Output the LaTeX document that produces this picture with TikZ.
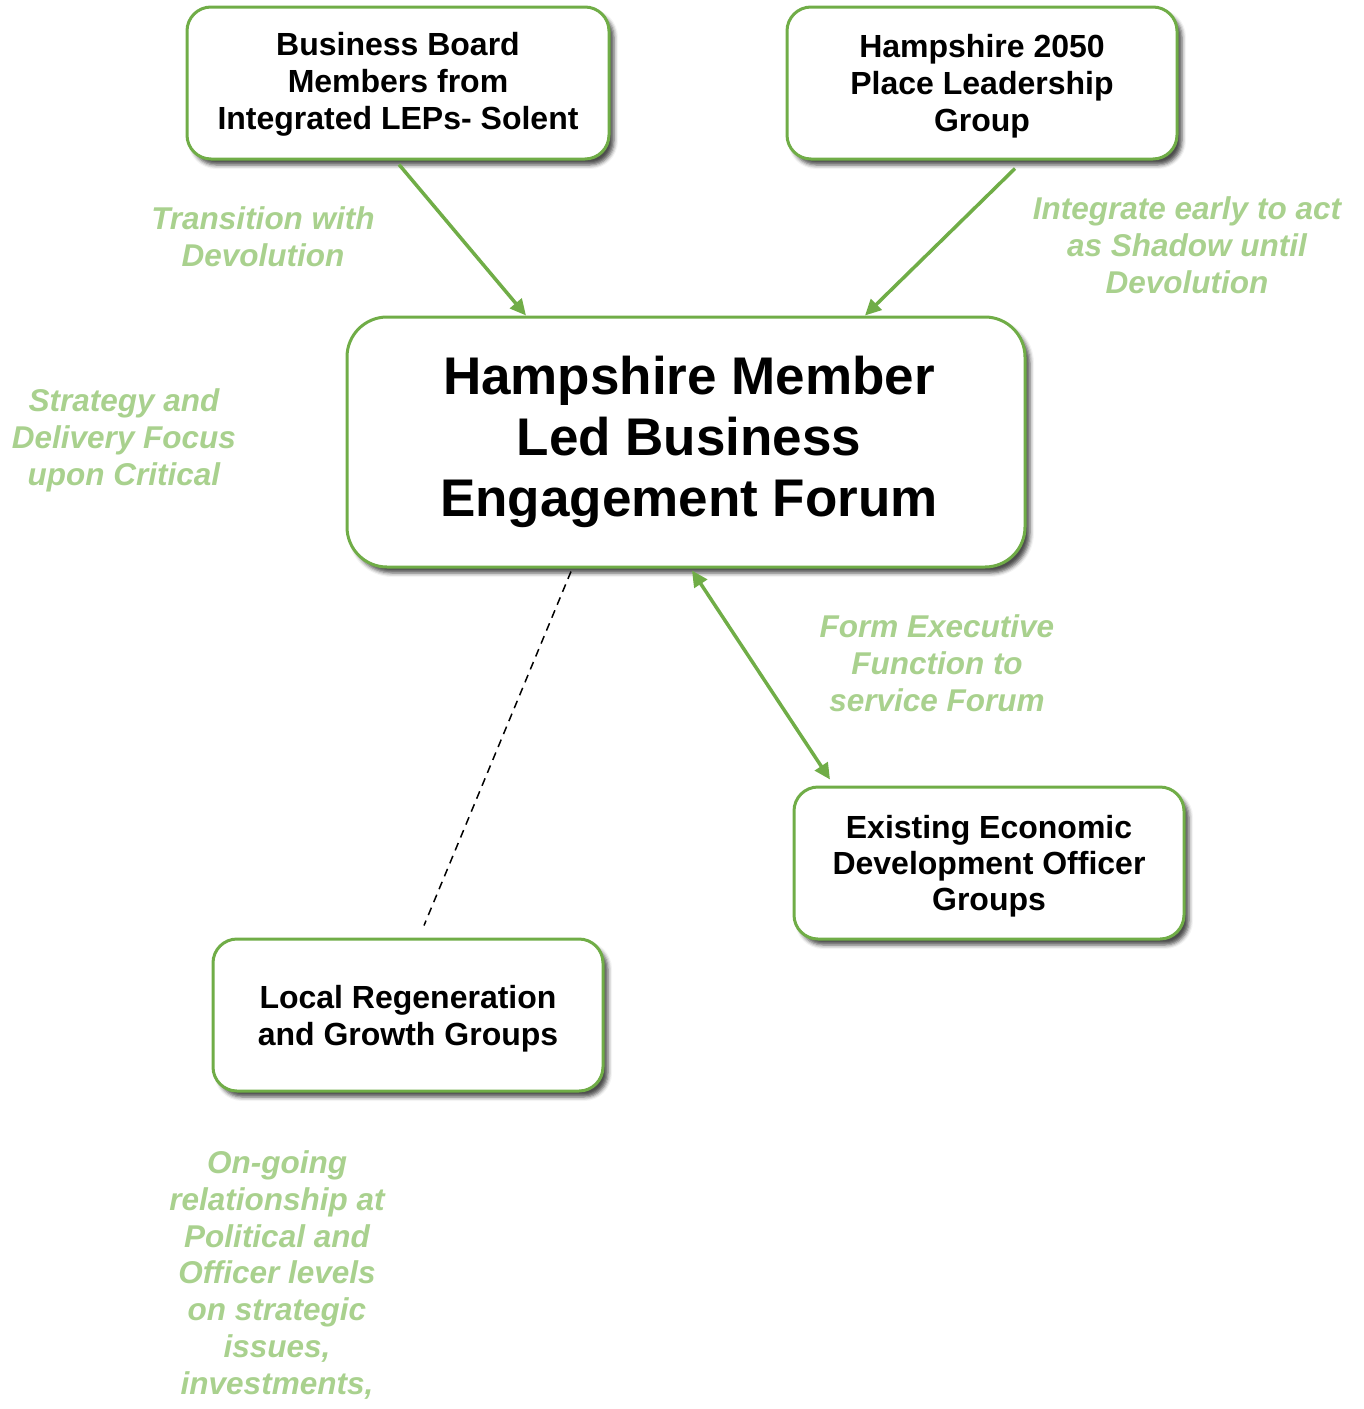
\documentclass[tikz,border=0pt]{standalone}
\usepackage{fontspec}
\setmainfont{Liberation Sans}
\usetikzlibrary{arrows.meta,shadows.blur,calc}
\definecolor{boxgreen}{HTML}{70AD47}
\definecolor{notegreen}{HTML}{A9D18E}
\begin{document}
\begin{tikzpicture}[x=1pt,y=-1pt,
  card/.style={draw=boxgreen, line width=3pt, fill=white, rounded corners=24pt,
    align=center, inner sep=0pt, text=black,
    font=\fontsize{32}{37}\selectfont\bfseries,
    blur shadow={shadow xshift=5pt, shadow yshift=-6pt, shadow blur radius=4pt, shadow opacity=70}},
  note/.style={align=center, text=notegreen, inner sep=0pt,
    font=\fontsize{31.5}{37}\selectfont\bfseries\itshape},
  link/.style={draw=boxgreen, line width=3.5pt, -{Triangle[length=16pt,width=15pt]}},
  twoway/.style={draw=boxgreen, line width=3.5pt, {Triangle[length=16pt,width=15pt]}-{Triangle[length=16pt,width=15pt]}},
  loose/.style={draw=black, line width=1.5pt, dash pattern=on 8pt off 6pt}]
\useasboundingbox (0,0) rectangle (1364,1409);

% boxes
\node[card, minimum width=422pt, minimum height=152pt, text depth=4pt] (bb) at (398,83)
  {Business Board\\Members from\\Integrated LEPs- Solent};
\node[card, minimum width=390pt, minimum height=152pt, text depth=0pt] (hp) at (982,83)
  {Hampshire 2050\\Place Leadership\\Group};
\node[card, minimum width=678pt, minimum height=250pt, rounded corners=40pt,
  font=\fontsize{53}{61}\selectfont\bfseries] (hm) at (686,442)
  {\hspace*{6pt}Hampshire Member\\\hspace*{6pt}Led Business\\\hspace*{6pt}Engagement Forum};
\node[card, minimum width=390pt, minimum height=152pt, text depth=0pt,
  font=\fontsize{32}{36}\selectfont\bfseries] (ed) at (989,863)
  {Existing Economic\\Development Officer\\Groups};
\node[card, minimum width=390pt, minimum height=152pt, text depth=0pt] (lr) at (408,1015)
  {Local Regeneration\\and Growth Groups};

% connectors
\draw[link] ($(bb.south)+(1,4)$) -- ($(hm.north)+(-160,0)$);
\draw[link] ($(hp.south)+(33,8)$) -- ($(hm.north)+(179,0)$);
\draw[twoway] ($(hm.south)+(6,2)$) -- ($(ed.north)+(-159,-6)$);
\draw[loose] ($(hm.south)+(-115,3)$) -- ($(lr.north)+(16,-12)$);

% annotations
\node[note] (n1) at (263,237) {Transition with\\Devolution};
\node[note] (n2) at (1187,245) {Integrate early to act\\as Shadow until\\Devolution};
\node[note] (n3) at (124,440) {Strategy and\\Delivery Focus\\upon Critical};
\node[note] (n4) at (937,663) {Form Executive\\Function to\\service Forum};
\node[note, font=\fontsize{31.5}{36.8}\selectfont\bfseries\itshape] (n5) at (277,1275)
  {On-going\\relationship at\\Political and\\Officer levels\\on strategic\\issues,\\investments,};
\end{tikzpicture}
\end{document}
